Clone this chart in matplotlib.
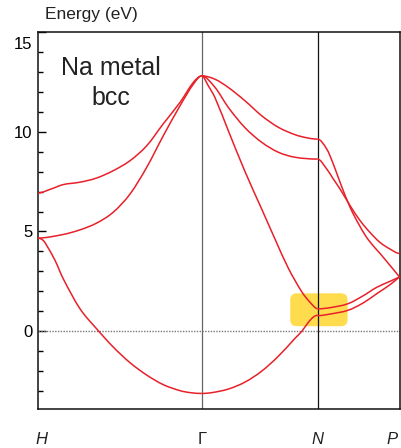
import matplotlib
matplotlib.use("Agg")
import matplotlib.pyplot as plt
from matplotlib.patches import FancyBboxPatch, PathPatch
from matplotlib.path import Path
from matplotlib.transforms import ScaledTranslation, blended_transform_factory

plt.rcParams["font.family"] = ["Liberation Sans", "DejaVu Sans"]

# high-symmetry points along the path (units of 2*pi/a)
point_labels = ["H", "Γ", "N", "P"]
point_k = [0.0, 1.0, 1.7071, 2.2071]

# H -> Gamma
hg_low_k = [0, 0.032, 0.053, 0.104, 0.154, 0.256, 0.358, 0.46, 0.562, 0.664, 0.765, 0.867, 0.93, 1.0]
hg_low_e = [4.67, 4.55, 4.3, 3.55, 2.63, 1.13, 0.12, -0.8, -1.58, -2.2, -2.68, -2.98, -3.08, -3.12]
hg_mid_k = [0, 0.154, 0.256, 0.358, 0.46, 0.562, 0.664, 0.765, 0.867, 0.948, 1.0]
hg_mid_e = [4.67, 4.85, 5.08, 5.42, 5.97, 6.88, 8.22, 9.8, 11.3, 12.38, 12.8]
hg_top_k = [0, 0.08, 0.154, 0.256, 0.358, 0.46, 0.562, 0.664, 0.765, 0.867, 0.948, 1.0]
hg_top_e = [6.93, 7.13, 7.35, 7.47, 7.68, 8.05, 8.55, 9.3, 10.4, 11.47, 12.47, 12.8]

# Gamma -> N
gn_low_k = [1.0, 1.061, 1.162, 1.264, 1.366, 1.468, 1.57, 1.611, 1.651, 1.68, 1.707]
gn_low_e = [-3.12, -3.08, -2.9, -2.55, -2.0, -1.25, -0.35, 0.0, 0.45, 0.7, 0.8]
gn_steep_k = [1.0, 1.04, 1.081, 1.162, 1.264, 1.366, 1.448, 1.529, 1.611, 1.661, 1.707]
gn_steep_e = [12.8, 12.3, 11.7, 10.05, 8.0, 6.12, 4.6, 3.15, 1.97, 1.45, 1.13]
gn_mid_k = [1.0, 1.081, 1.162, 1.264, 1.366, 1.468, 1.57, 1.707]
gn_mid_e = [12.8, 12.22, 11.22, 10.2, 9.47, 8.97, 8.72, 8.63]
gn_top_k = [1.0, 1.081, 1.162, 1.264, 1.366, 1.468, 1.57, 1.651, 1.707]
gn_top_e = [12.8, 12.63, 12.22, 11.55, 10.8, 10.22, 9.85, 9.68, 9.63]

# N -> P
np_a_k = [1.707, 1.763, 1.803, 1.844, 1.905, 1.966, 2.017, 2.088, 2.149, 2.207]
np_a_e = [9.63, 9.13, 8.38, 7.47, 6.22, 5.25, 4.58, 3.9, 3.3, 2.72]
np_b_k = [1.707, 1.763, 1.803, 1.844, 1.905, 1.966, 2.027, 2.088, 2.149, 2.207]
np_b_e = [8.63, 8.13, 7.63, 7.13, 6.3, 5.55, 4.95, 4.45, 4.12, 3.9]
np_c_k = [1.707, 1.783, 1.893, 1.986, 2.068, 2.149, 2.207]
np_c_e = [0.78, 0.86, 1.05, 1.42, 1.88, 2.33, 2.72]
np_d_k = [1.707, 1.783, 1.893, 1.986, 2.068, 2.149, 2.207]
np_d_e = [1.12, 1.18, 1.38, 1.78, 2.2, 2.5, 2.72]

# (k, E, flat at P end?)
bands = [
    (hg_low_k, hg_low_e, True), (hg_mid_k, hg_mid_e, True), (hg_top_k, hg_top_e, True),
    (gn_low_k, gn_low_e, True), (gn_steep_k, gn_steep_e, True),
    (gn_mid_k, gn_mid_e, True), (gn_top_k, gn_top_e, True),
    (np_a_k, np_a_e, False), (np_b_k, np_b_e, True),
    (np_c_k, np_c_e, False), (np_d_k, np_d_e, False),
]

# highlighted region around the gap at N
box_k = (1.54, 1.89)
box_e = (0.25, 1.9)


def band_path(k, e, flat_end):
    # cubic Hermite pieces through the read points, flat at the zone points
    n = len(k)
    slopes = [0.0] * n
    for i in range(1, n - 1):
        slopes[i] = (e[i + 1] - e[i - 1]) / (k[i + 1] - k[i - 1])
    if not flat_end:
        slopes[-1] = (e[-1] - e[-2]) / (k[-1] - k[-2])
    verts = [(k[0], e[0])]
    codes = [Path.MOVETO]
    for i in range(n - 1):
        h = (k[i + 1] - k[i]) / 3
        verts += [(k[i] + h, e[i] + h * slopes[i]),
                  (k[i + 1] - h, e[i + 1] - h * slopes[i + 1]),
                  (k[i + 1], e[i + 1])]
        codes += [Path.CURVE4] * 3
    return Path(verts, codes)


fig = plt.figure(figsize=(4.01, 4.48), dpi=100)
ax = fig.add_axes([38 / 401, 39 / 448, 361.5 / 401, 377 / 448])

ax.add_patch(FancyBboxPatch((box_k[0], box_e[0]), box_k[1] - box_k[0], box_e[1] - box_e[0],
                            boxstyle="round,pad=0,rounding_size=0.04", mutation_aspect=8.2,
                            facecolor="#ffdc4e", edgecolor="none", zorder=1))

for k, e, flat_end in bands:
    ax.add_patch(PathPatch(band_path(k, e, flat_end), fill=False,
                           edgecolor="#e8202a", lw=1.1, zorder=3))

ax.axhline(0, color="#777777", lw=1.0, ls=(0, (1, 1)), zorder=2)
ax.axvline(point_k[1], color="#666666", lw=0.9, zorder=2)
ax.axvline(point_k[2], color="#111111", lw=0.9, zorder=2)

ax.set_xlim(point_k[0], point_k[-1])
ax.set_ylim(-3.9, 15)
ax.set_xticks([])

# symmetry-point labels under the axis (kept inside the figure edge)
label_tr = blended_transform_factory(ax.transData, ax.transAxes)
shifts = [3, 0, 0, -7]
for kp, txt, dx in zip(point_k, point_labels, shifts):
    ax.text(kp, -0.082, txt, fontsize=12, ha="center", va="center", color="#222222",
            fontstyle="normal" if txt == "Γ" else "italic",
            transform=label_tr + ScaledTranslation(dx / 100, 0, fig.dpi_scale_trans))

ax.set_yticks([0, 5, 10, 15])
ax.set_yticks(range(-3, 15), minor=True)
ax.tick_params(axis="y", which="major", direction="in", length=6, width=1, labelsize=12, pad=4)
ax.tick_params(axis="y", which="minor", direction="in", length=3.5, width=1)
top_lab = ax.get_yticklabels()[-1]
top_lab.set_transform(top_lab.get_transform() + ScaledTranslation(0, -0.11, fig.dpi_scale_trans))

for side in ax.spines.values():
    side.set_linewidth(1.1)
    side.set_color("#111111")

fig.text(45 / 401, 1 - 15 / 448, "Energy (eV)", fontsize=12.5, ha="left", va="center", color="#222222")
fig.text(110.5 / 401, 1 - 83 / 448, "Na metal\nbcc", fontsize=18, ha="center", va="center",
         linespacing=1.3, color="#222222")

fig.savefig("out.png", dpi=100)
